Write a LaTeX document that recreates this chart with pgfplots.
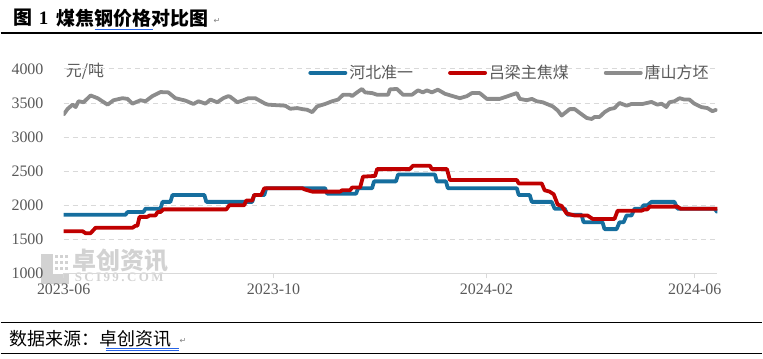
\documentclass[border=0pt]{standalone}
\usepackage{pgfplots}
\pgfplotsset{compat=1.18}
\usepackage{fontspec}
\setmainfont{Liberation Serif}
\newfontfamily\cjk{Noto Sans CJK SC}
\newfontfamily\sym{DejaVu Sans}
\definecolor{cblue}{RGB}{22,110,158}
\definecolor{cred}{RGB}{192,0,0}
\definecolor{cgrey}{RGB}{140,140,140}
\definecolor{ctext}{RGB}{89,89,89}
\definecolor{cgrid}{RGB}{217,217,217}
\definecolor{cwm}{RGB}{210,210,210}
\definecolor{cul}{RGB}{40,100,230}
\begin{document}
\begin{tikzpicture}[x=1pt,y=1pt]
\path (0,0) rectangle (763,359);
% title block
\node[anchor=west, inner sep=0pt] at (13,341) {\cjk\bfseries\fontsize{19}{19}\selectfont 图};
\node[anchor=west, inner sep=0pt] at (38,341) {\bfseries\fontsize{19}{19}\selectfont 1};
\node[anchor=west, inner sep=0pt] at (56,341) {\cjk\bfseries\fontsize{19}{19}\selectfont 煤焦钢价格对比图};
\node[anchor=west, inner sep=0pt, text=gray] at (213,338) {\sym\fontsize{8}{8}\selectfont ↵};
\draw[cul, line width=1pt] (94,329.5) -- (153,329.5);
\draw[black, line width=1.5pt] (0,326) -- (763,326);
% bottom block
\draw[black, line width=1.3pt] (0,36) -- (763,36);
\node[anchor=west, inner sep=0pt] at (9,20) {\cjk\fontsize{18}{18}\selectfont 数据来源：卓创资讯};
\node[anchor=west, inner sep=0pt, text=gray] at (179,17) {\sym\fontsize{8}{8}\selectfont ↵};
\draw[cul, line width=0.7pt] (105,9.5) -- (179,9.5);
\draw[cul, line width=0.7pt] (105,7.5) -- (179,7.5);
\draw[black, line width=1.3pt] (0,5) -- (763,5);
% watermark
\fill[cwm] (40,74) rectangle (52,105);
\fill[cwm] (40,74) rectangle (68,84);
\foreach \i in {0,1,2} \foreach \j in {0,1,2} {\fill[cwm] (54+\i*5,88+\j*6) rectangle (57+\i*5,91+\j*6);}
\node[anchor=west, inner sep=0pt, text=cwm] at (72,98) {\cjk\bfseries\fontsize{24}{24}\selectfont 卓创资讯};
\node[anchor=west, inner sep=0pt, text=cwm] at (74,81.5) {\bfseries\fontsize{13}{13}\selectfont S\hspace{2.4pt}C\hspace{2.4pt}I\hspace{2.4pt}9\hspace{2.4pt}9\hspace{2.4pt}.\hspace{2.4pt}C\hspace{2.4pt}O\hspace{2.4pt}M};
\node[anchor=west, inner sep=0pt, text=ctext] at (65,288) {\cjk\fontsize{16}{16}\selectfont 元/吨};
\begin{axis}[
  at={(63pt,85pt)}, anchor=south west,
  scale only axis, width=655pt, height=205pt,
  xmin=0, xmax=380.8, ymin=1000, ymax=4000,
  ytick={1000,1500,...,4000},
  xtick={0,122.3,246.3,367.6},
  xticklabels={2023-06,2023-10,2024-02,2024-06},
  /pgf/number format/1000 sep={},
  /pgf/number format/assume math mode=true,
  separate axis lines,
  axis x line*=bottom,
  axis y line*=left,
  x axis line style={draw=cgrid, line width=1pt, -},
  y axis line style={draw=none},
  ytick style={draw=none},
  xtick style={draw=cgrid, line width=1pt},
  tick align=outside,
  major tick length=5pt,
  ymajorgrids,
  major grid style={draw=cgrid, line width=0.8pt, dash pattern=on 5pt off 4pt},
  yticklabel style={font=\fontsize{16}{16}\selectfont, text=ctext, anchor=east, inner sep=0pt, xshift=-15pt},
  xticklabel style={font=\fontsize{16}{16}\selectfont, text=ctext, anchor=north, inner sep=0pt, yshift=-5pt},
  every axis plot/.append style={line width=3.8pt, line join=round, line cap=round},
  legend columns=3,
  legend image code/.code={\draw[#1, line width=4pt, line cap=round] (0pt,0pt) -- (35pt,0pt);},
  legend style={draw=none, fill=none, at={(0.3741,0.9805)}, anchor=west, inner sep=0pt,
    nodes={inner sep=1pt},
    font=\cjk\fontsize{16}{16}\selectfont, text=ctext,
    /tikz/every odd column/.append style={column sep=1pt},
    /tikz/every even column/.append style={column sep=34pt}},
]
\addplot[cblue] coordinates {
(0,1860)(36.0,1860)(37.2,1900)(46.5,1900)(47.7,1950)(56.4,1950)(57.6,2050)(62.2,2050)
(63.4,2150)(82.0,2150)(83.1,2050)(109.9,2050)(111.0,2150)(116.9,2150)(118.0,2250)
(152.3,2250)(153.5,2170)(170.4,2170)(171.5,2250)(179.7,2250)(180.8,2350)(193.6,2350)
(194.8,2450)(216.3,2450)(217.4,2350)(222.7,2350)(223.8,2250)(264.0,2250)(265.1,2150)
(271.5,2150)(272.7,2050)(284.3,2050)(286.0,1950)(291.9,1950)(293.6,1860)(301.7,1860)
(302.9,1750)(313.9,1750)(315.1,1650)(322.1,1650)(323.8,1750)(326.2,1750)(327.9,1850)
(330.8,1850)(332.6,1950)(336.6,1950)(337.8,2000)(340.1,2000)(342.4,2050)(355.8,2050)
(357.6,1950)(379.1,1950)(380.8,1900)
};
\addlegendentry{河北准一}
\addplot[cred] coordinates {
(0,1620)(11.0,1620)(12.8,1590)(15.7,1590)(18.6,1670)(40.1,1670)(41.9,1700)(43.0,1700)
(44.2,1830)(48.8,1830)(50.0,1850)(53.5,1850)(54.7,1900)(56.4,1900)(58.1,1940)(94.8,1940)
(96.5,2000)(105.2,2000)(106.4,2070)(109.9,2070)(111.0,2150)(115.1,2150)(116.9,2250)
(139.0,2250)(140.7,2230)(144.8,2200)(161.0,2200)(162.2,2220)(166.9,2220)(168.0,2260)
(172.7,2260)(174.4,2420)(181.4,2430)(182.6,2530)(201.7,2530)(203.5,2580)(213.4,2580)
(214.5,2530)(223.3,2530)(225.0,2370)(264.0,2370)(265.1,2320)(278.5,2320)(280.2,2220)
(283.1,2200)(285.5,2160)(287.8,2010)(290.1,1990)(293.0,1880)(297.7,1850)(305.2,1850)
(308.1,1800)(320.9,1800)(322.7,1920)(336.6,1920)(338.4,1940)(340.1,1940)(341.3,1980)
(357.6,1980)(359.3,1950)(380.8,1950)
};
\addlegendentry{吕梁主焦煤}
\addplot[cgrey] coordinates {
(0,3330)(2.3,3412)(5.2,3475)(7.0,3440)(8.7,3525)(11.6,3510)(15.7,3610)(19.8,3570)
(25.6,3475)(29.1,3540)(34.3,3570)(37.2,3560)(40.1,3490)(44.8,3540)(47.7,3525)(51.7,3600)
(56.4,3660)(61.0,3655)(65.1,3570)(70.9,3535)(75.6,3485)(78.5,3525)(82.6,3490)(85.5,3550)
(89.5,3510)(93.0,3570)(95.9,3600)(97.1,3590)(101.2,3510)(104.7,3540)(107.6,3570)
(111.6,3570)(117.4,3490)(119.2,3475)(129.1,3460)(132.0,3415)(136.0,3425)(139.0,3410)
(141.9,3400)(144.8,3365)(147.7,3450)(152.3,3485)(156.4,3525)(159.9,3550)(162.8,3620)
(166.9,3620)(168.0,3600)(170.9,3655)(173.8,3705)(175.6,3655)(179.7,3645)(182.6,3620)
(189.0,3620)(190.1,3700)(194.2,3705)(197.7,3620)(202.9,3620)(206.4,3685)(209.3,3655)
(211.6,3685)(214.5,3655)(218.0,3695)(222.1,3635)(226.7,3600)(230.8,3570)(234.9,3600)
(237.8,3645)(242.4,3645)(246.5,3560)(254.1,3560)(264.0,3645)(265.7,3560)(269.8,3540)
(272.7,3560)(275.6,3525)(279.1,3510)(284.9,3450)(287.8,3390)(290.1,3315)(294.8,3410)
(297.7,3410)(300.6,3355)(304.7,3280)(307.6,3265)(309.3,3295)(312.2,3295)(315.1,3365)
(318.0,3410)(320.9,3425)(323.8,3500)(327.9,3460)(330.8,3485)(337.2,3485)(342.4,3515)
(345.9,3475)(348.3,3490)(351.1,3440)(352.9,3510)(355.8,3525)(358.8,3570)(361.6,3550)
(364.5,3550)(367.4,3490)(371.5,3440)(375.0,3425)(377.9,3380)(380.2,3400)
};
\addlegendentry{唐山方坯}
\end{axis}
\end{tikzpicture}
\end{document}
